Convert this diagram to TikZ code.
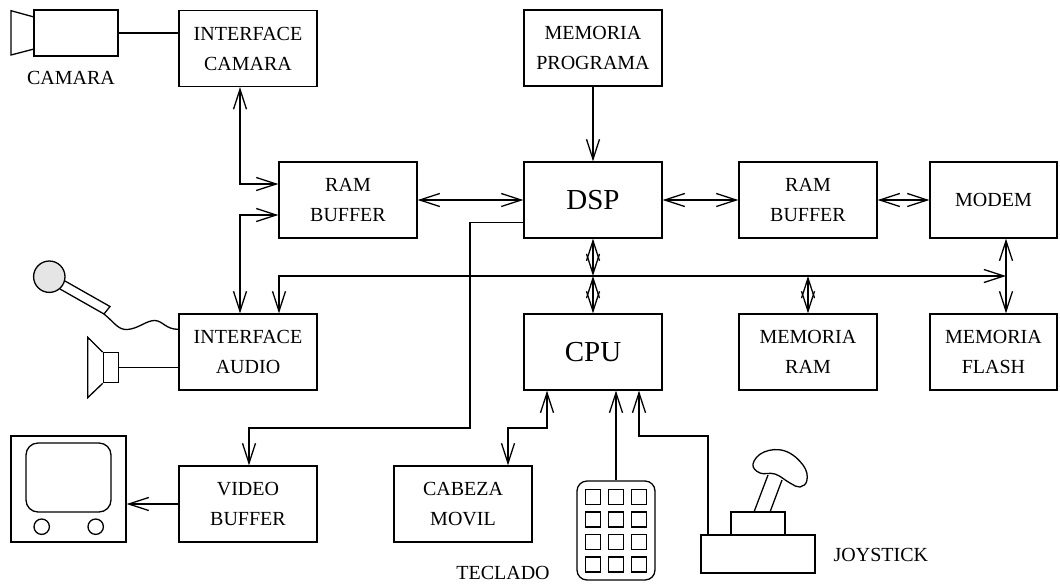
\documentclass[tikz,border=0pt]{standalone}
\usepackage{fontspec}
\setmainfont{Liberation Serif}
\usetikzlibrary{arrows.meta}

\begin{document}
\begin{tikzpicture}[x=0.5pt,y=-0.5pt,line width=0.65pt,
  >={Straight Barb[length=10pt,width=6.5pt]},
  blk/.style={draw,minimum width=69pt,minimum height=38pt,inner sep=0pt,
    align=center,font=\fontsize{10}{15}\selectfont},
  big/.style={blk,font=\fontsize{14.5}{16}\selectfont},
  lbl/.style={inner sep=0pt,font=\fontsize{10}{12}\selectfont}]
  \useasboundingbox (0,0) rectangle (1060,585);

  % Blocks
  \node[blk] (IC) at (248,48.5) {INTERFACE\\CAMARA};
  \node[blk] (RB1) at (348,200) {RAM\\BUFFER};
  \node[blk] (MP) at (593,48) {MEMORIA\\PROGRAMA};
  \node[big] (DSP) at (593,200) {DSP};
  \node[blk] (RB2) at (808,200) {RAM\\BUFFER};
  \node[blk,minimum width=63.5pt] (MOD) at (993.5,200) {MODEM};
  \node[blk] (IA) at (248,352) {INTERFACE\\AUDIO};
  \node[big] (CPU) at (593,352) {CPU};
  \node[blk] (MR) at (808,352) {MEMORIA\\RAM};
  \node[blk,minimum width=63.5pt] (MF) at (993.5,352) {MEMORIA\\FLASH};
  \node[blk] (VB) at (248,504) {VIDEO\\BUFFER};
  \node[blk] (CM) at (463,504) {CABEZA\\MOVIL};

  % Camera
  \node[draw,minimum width=42pt,minimum height=23pt,inner sep=0pt] (CAM) at (76,33) {};
  \draw (34,17) -- (11,10.7) -- (11,55) -- (34,49);
  \node[lbl] (CAMl) at (71,78) {CAMARA};
  \draw (CAM.east) -- (CAM.east -| IC.west);

  % Microphone and speaker
  \draw (60,289) -- (104,314) -- (110,306.5) -- (65,281);
  \filldraw[fill=gray!20] (49.3,276.7) circle[radius=7.85pt];
  \draw (104,314) .. controls (114,322) and (118,330) .. (127,329.5)
    .. controls (138,329) and (147,320) .. (155,320.5)
    .. controls (163,321) and (166,329.5) .. ([yshift=11.35pt]IA.west);
  \node[draw,minimum width=7.5pt,minimum height=15pt,inner sep=0pt] (SPK) at (110.8,367.7) {};
  \draw (SPK.north west) -- (87.7,337.3) -- (87.7,397.7) -- (SPK.south west);
  \draw (SPK.east) -- (SPK.east -| IA.west);

  % Monitor
  \node[draw,minimum width=57.5pt,minimum height=53pt,inner sep=0pt] (TV) at (68.5,489) {};
  \draw[rounded corners=6pt] (26,443) rectangle (111,512);
  \draw (41.7,526.7) circle[radius=3.85pt];
  \draw (95.7,526.7) circle[radius=3.85pt];
  \draw[->] (VB.west) -- (VB.west -| TV.east);

  % Keyboard
  \node[draw,rounded corners=5pt,minimum width=39pt,minimum height=49.5pt,inner sep=0pt] (TEC) at (616,530.5) {};
  \foreach \i in {0,1,2}
    \foreach \j in {0,...,3}
      \draw ({585.5+23*\i},{489.5+22.5*\j}) rectangle +(15,15);
  \node[lbl] (TECl) at (503,573) {TECLADO};

  % Joystick
  \node[draw,minimum width=57pt,minimum height=19pt,inner sep=0pt] (JB) at (758,554) {};
  \draw (731,535) rectangle (785,512);
  \draw (754,512) -- (768,475);
  \draw (770,512) -- (782,480);
  \draw plot[smooth cycle,tension=0.7] coordinates
    {(753,464) (764,452) (785,451) (803,465) (807,480) (800,487) (790,483) (775,474) (760,473)};
  \node[lbl,anchor=west] (JOYl) at (833,555) {JOYSTICK};

  % Bus
  \coordinate (B1) at (279,276);
  \coordinate (B2) at (1006,276);
  \coordinate (B3) at (DSP.south |- B1);
  \draw[<->] ([xshift=15.5pt]IA.north) |- (B2);
  \draw[<->] (DSP) -- (B3);
  \draw[<->] (B3) -- (CPU);
  \draw[<->] (MR.north |- B1) -- (MR);
  \draw[<->] (B2 |- MOD.south) -- (B2 |- MF.north);

  % Connections
  \draw[<->] ([xshift=-4pt]IC.south) |- ([yshift=8pt]RB1.west);
  \draw[<->] ([yshift=-7.5pt]RB1.west) -| ([xshift=-4pt]IA.north);
  \draw[<->] (RB1) -- (DSP);
  \draw[<->] (DSP) -- (RB2);
  \draw[<->] (RB2) -- (MOD);
  \draw[->] (MP) -- (DSP);
  \coordinate (V1) at (470,428);
  \draw[->] ([yshift=-11.3pt]DSP.west) -| (V1) -| ([xshift=0.5pt]VB.north);
  \coordinate (C1) at (508,428);
  \draw[<->] ([xshift=-23pt]CPU.south) |- (C1) -- (C1 |- CM.north);
  \draw[->] (TEC) -- ([xshift=11.5pt]CPU.south);
  \coordinate (J1) at (708,436);
  \draw[->] (JB.north -| J1) -- (J1) -| ([xshift=23pt]CPU.south);
\end{tikzpicture}
\end{document}
